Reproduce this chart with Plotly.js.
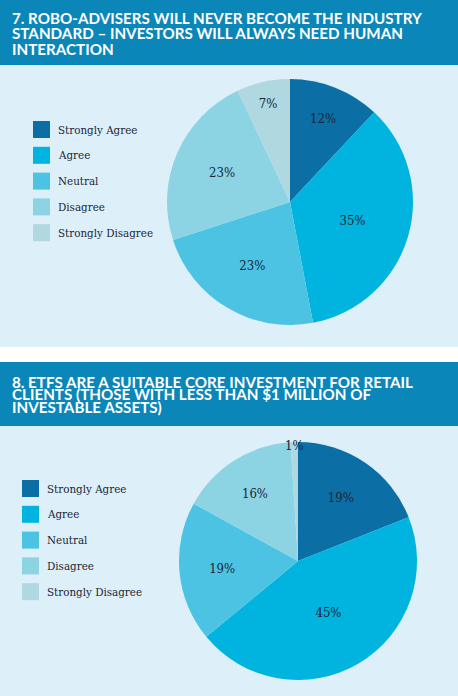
<!DOCTYPE html>
<html>
<head>
<meta charset="utf-8">
<script src="https://cdn.plot.ly/plotly-3.0.1.min.js"></script>
<style>html,body{margin:0;padding:0;background:#fff;}#chart{width:458px;height:696px;}</style>
</head>
<body>
<div id="chart"></div>
<script>
// ---- data ----
const categories = ["Strongly Agree", "Agree", "Neutral", "Disagree", "Strongly Disagree"];
const colors = ["#0B6FA5", "#00B4DF", "#4CC3E2", "#8CD3E3", "#B0D8E1"];
const q7Title = ["7. ROBO-ADVISERS WILL NEVER BECOME THE INDUSTRY", "STANDARD \u2013 INVESTORS WILL ALWAYS NEED HUMAN", "INTERACTION"];
const q7Values = [12, 35, 23, 23, 7];
const q8Title = ["8. ETFS ARE A SUITABLE CORE INVESTMENT FOR RETAIL", "CLIENTS (THOSE WITH LESS THAN $1 MILLION OF", "INVESTABLE ASSETS)"];
const q8Values = [19, 45, 19, 16, 1];

// ---- layout helpers ----
const W = 458, H = 696;
const px = v => v / W;
const py = v => 1 - v / H;

const headerColor = "#0B86B8";
const panelColor = "#DDF0FA";
const titleFont = {family: "Lato, 'DejaVu Sans', sans-serif", size: 15.2, color: "#ffffff", weight: 700};
const legendFont = {family: "'DejaVu Serif Condensed', 'DejaVu Serif', serif", size: 11.5, color: "#1A2636"};
const pieFont = {family: "'DejaVu Serif Condensed', 'DejaVu Serif', serif", size: 13, color: "#1A2636"};

const panels = [
  {title: q7Title, values: q7Values, header: [0, 65], body: [65, 347], titleY: [18, 33.5, 48.5],
   legendX: 33, legendY0: 129.5, cx: 290, cy: 202, r: 123},
  {title: q8Title, values: q8Values, header: [362, 426], body: [426, 696], titleY: [381.5, 394, 406.5],
   legendX: 22, legendY0: 488.5, cx: 298, cy: 561, r: 119}
];
const rowGap = 25.8, sw = 17;

const shapes = [], annotations = [], traces = [];
panels.forEach(p => {
  shapes.push({type: "rect", xref: "paper", yref: "paper", x0: 0, x1: 1, y0: py(p.header[1]), y1: py(p.header[0]),
    fillcolor: headerColor, line: {width: 0}, layer: "below"});
  shapes.push({type: "rect", xref: "paper", yref: "paper", x0: 0, x1: 1, y0: py(p.body[1]), y1: py(p.body[0]),
    fillcolor: panelColor, line: {width: 0}, layer: "below"});
  p.title.forEach((t, i) => {
    annotations.push({text: t, xref: "paper", yref: "paper", x: px(10), y: py(p.titleY[i]), xanchor: "left", yanchor: "middle",
      showarrow: false, font: titleFont, align: "left"});
  });
  categories.forEach((c, i) => {
    const yc = p.legendY0 + i * rowGap;
    shapes.push({type: "rect", xref: "paper", yref: "paper", x0: px(p.legendX), x1: px(p.legendX + sw),
      y0: py(yc + sw / 2), y1: py(yc - sw / 2), fillcolor: colors[i], line: {width: 0}});
    annotations.push({text: c, xref: "paper", yref: "paper", x: px(p.legendX + sw + 6), y: py(yc), xanchor: "left", yanchor: "middle",
      showarrow: false, font: legendFont});
  });
  traces.push({
    type: "pie", labels: categories, values: p.values, sort: false, direction: "clockwise", rotation: 0,
    marker: {colors: colors, line: {width: 0}},
    textinfo: "percent", texttemplate: "%{value}%", textposition: "inside", insidetextorientation: "horizontal",
    textfont: pieFont, hoverinfo: "label+percent", showlegend: false,
    domain: {x: [px(p.cx - p.r), px(p.cx + p.r)], y: [py(p.cy + p.r), py(p.cy - p.r)]}
  });
});

const layout = {
  width: W, height: H, margin: {l: 0, r: 0, t: 0, b: 0},
  paper_bgcolor: "#ffffff", showlegend: false,
  uniformtext: {minsize: 13, mode: "show"},
  shapes: shapes, annotations: annotations
};
Plotly.newPlot("chart", traces, layout, {displayModeBar: false, staticPlot: true});
</script>
</body>
</html>
